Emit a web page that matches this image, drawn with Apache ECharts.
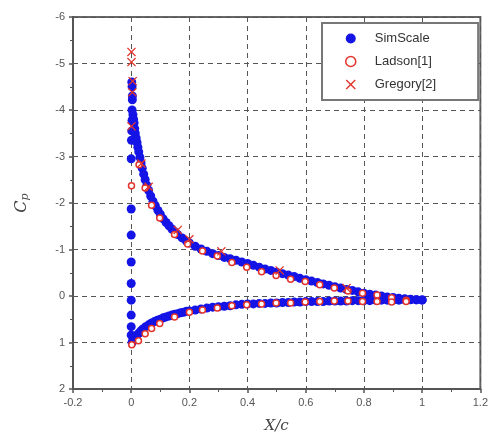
<!DOCTYPE html>
<html>
<head>
<meta charset="utf-8">
<script src="https://cdn.jsdelivr.net/npm/echarts@6/dist/echarts.min.js"></script>
<style>
  html, body { margin: 0; padding: 0; background: #fff; }
  #chart { width: 491px; height: 441px; }
</style>
</head>
<body>
<div id="chart"></div>
<script>
// Pressure coefficient distribution over the airfoil (suction side plotted upward, axis inverted)

// SimScale – points clustered right at the leading edge (x/c ~ 0)
const simLeX  = [0.000, 0.000, 0.000, 0.000, 0.000, 0.000, 0.000, 0.000, 0.000, 0.001, 0.002, 0.003, 0.003, 0.004, 0.004, 0.003, 0.002];
const simLeCp = [0.84, 0.66, 0.41, 0.09, -0.27, -0.73, -1.31, -1.87, -2.95, -3.35, -3.55, -3.78, -4.0, -4.22, -4.3, -4.5, -4.6];

// SimScale – upper surface
const simUpX  = [0.006, 0.008, 0.010, 0.012, 0.014, 0.017, 0.020, 0.023, 0.026, 0.030, 0.034, 0.038, 0.043, 0.048, 0.054, 0.060, 0.067, 0.075, 0.083, 0.092, 0.10, 0.11, 0.12, 0.13, 0.14, 0.15, 0.16, 0.175, 0.19, 0.20, 0.22, 0.24, 0.26, 0.28, 0.30, 0.32, 0.34, 0.36, 0.38, 0.40, 0.42, 0.44, 0.46, 0.48, 0.50, 0.52, 0.54, 0.56, 0.58, 0.60, 0.62, 0.64, 0.66, 0.68, 0.70, 0.72, 0.74, 0.76, 0.78, 0.80, 0.82, 0.84, 0.86, 0.88, 0.90, 0.92, 0.94, 0.96, 0.98, 1.00];
const simUpCp = [-3.9, -3.8, -3.72, -3.6, -3.5, -3.4, -3.3, -3.2, -3.1, -2.98, -2.86, -2.75, -2.62, -2.5, -2.38, -2.27, -2.15, -2.04, -1.94, -1.84, -1.76, -1.66, -1.58, -1.51, -1.44, -1.38, -1.32, -1.25, -1.18, -1.14, -1.07, -1.01, -0.96, -0.91, -0.87, -0.83, -0.80, -0.77, -0.73, -0.70, -0.66, -0.62, -0.58, -0.55, -0.51, -0.48, -0.45, -0.42, -0.38, -0.35, -0.32, -0.29, -0.26, -0.23, -0.20, -0.17, -0.14, -0.12, -0.09, -0.06, -0.04, -0.02, 0.0, 0.02, 0.03, 0.05, 0.06, 0.07, 0.08, 0.09];

// SimScale – lower surface
const simLoX  = [0.003, 0.006, 0.010, 0.015, 0.020, 0.026, 0.033, 0.040, 0.050, 0.060, 0.070, 0.080, 0.090, 0.10, 0.11, 0.12, 0.13, 0.14, 0.15, 0.16, 0.17, 0.18, 0.19, 0.20, 0.22, 0.24, 0.26, 0.28, 0.30, 0.32, 0.34, 0.36, 0.38, 0.40, 0.42, 0.44, 0.46, 0.48, 0.50, 0.52, 0.54, 0.56, 0.58, 0.60, 0.62, 0.64, 0.66, 0.68, 0.70, 0.72, 0.74, 0.76, 0.78, 0.80, 0.82, 0.84, 0.86, 0.88, 0.90, 0.92, 0.94, 0.96, 0.98, 1.00];
const simLoCp = [1.0, 0.97, 0.93, 0.88, 0.84, 0.80, 0.75, 0.71, 0.66, 0.62, 0.58, 0.55, 0.52, 0.50, 0.47, 0.45, 0.43, 0.41, 0.39, 0.38, 0.36, 0.35, 0.33, 0.32, 0.30, 0.28, 0.26, 0.24, 0.23, 0.22, 0.21, 0.19, 0.18, 0.17, 0.17, 0.16, 0.16, 0.15, 0.15, 0.14, 0.14, 0.13, 0.13, 0.12, 0.12, 0.12, 0.12, 0.11, 0.11, 0.11, 0.11, 0.10, 0.10, 0.10, 0.10, 0.09, 0.09, 0.09, 0.09, 0.09, 0.08, 0.08, 0.08, 0.08];

// Ladson [1] experiment
const ladsonX  = [0.001, 0.027, 0.048, 0.070, 0.098, 0.149, 0.194, 0.245, 0.296, 0.346, 0.397, 0.448, 0.498, 0.548, 0.598, 0.648, 0.698, 0.745, 0.795, 0.845, 0.895, 0.945,
                  0.002, 0.025, 0.048, 0.070, 0.098, 0.149, 0.200, 0.245, 0.296, 0.346, 0.397, 0.448, 0.498, 0.548, 0.598, 0.648, 0.698, 0.745, 0.795, 0.845, 0.895, 0.945];
const ladsonCp = [-2.37, -2.82, -2.32, -1.95, -1.68, -1.32, -1.12, -0.97, -0.86, -0.72, -0.62, -0.52, -0.44, -0.36, -0.31, -0.24, -0.17, -0.11, -0.06, -0.02, 0.04, 0.09,
                  1.05, 0.96, 0.81, 0.70, 0.59, 0.45, 0.35, 0.30, 0.26, 0.21, 0.19, 0.17, 0.15, 0.15, 0.13, 0.12, 0.11, 0.11, 0.12, 0.12, 0.13, 0.12];

// Gregory [2] experiment
const gregoryX  = [0.001, 0.001, 0.005, 0.004, 0.001, 0.035, 0.060, 0.160, 0.200, 0.310, 0.510, 0.740];
const gregoryCp = [-5.25, -5.03, -4.62, -4.38, -3.65, -2.85, -2.35, -1.42, -1.22, -0.96, -0.55, -0.17];

// Axis ticks
const xTicks = [-0.2, 0, 0.2, 0.4, 0.6, 0.8, 1, 1.2];
const yTicks = [-6, -5, -4, -3, -2, -1, 0, 1, 2];

const pairs = (xs, ys) => xs.map((x, i) => [x, ys[i]]);

const BLUE = '#1414e6';
const RED = '#e3342c';
const CROSS = 'path://M0,1L1,0L5,4L9,0L10,1L6,5L10,9L9,10L5,6L1,10L0,9L4,5Z';

const chart = echarts.init(document.getElementById('chart'), null, { renderer: 'canvas' });

const tickLabel = { color: '#555', fontSize: 11, fontFamily: 'Liberation Sans, Arial, sans-serif' };
const dashed = { show: true, lineStyle: { color: '#555', width: 1, type: [5, 4] } };

chart.setOption({
  animation: false,
  backgroundColor: '#fff',
  grid: {
    left: 73, right: 4, top: 17, bottom: 52,
    show: true, borderColor: '#666', borderWidth: 2, backgroundColor: 'transparent'
  },
  xAxis: {
    type: 'value',
    min: xTicks[0], max: xTicks[xTicks.length - 1], interval: 0.2,
    axisLine: { show: true, onZero: false, lineStyle: { color: '#555', width: 2 } },
    axisTick: { show: true, length: 4, lineStyle: { color: '#555', width: 1.5 } },
    minorTick: { show: true, splitNumber: 2, length: 3, lineStyle: { color: '#555' } },
    axisLabel: Object.assign({ margin: 8, formatter: v => String(Math.round(v * 10) / 10) }, tickLabel),
    splitLine: dashed,
    name: 'X/c',
    nameLocation: 'middle',
    nameGap: 30,
    nameTextStyle: { fontFamily: 'DejaVu Serif, Liberation Serif, serif', fontStyle: 'italic', fontSize: 15, color: '#444' }
  },
  yAxis: {
    type: 'value',
    inverse: true,
    min: yTicks[0], max: yTicks[yTicks.length - 1], interval: 1,
    axisLine: { show: true, onZero: false, lineStyle: { color: '#555', width: 2 } },
    axisTick: { show: true, length: 4, lineStyle: { color: '#555', width: 1.5 } },
    minorTick: { show: true, splitNumber: 2, length: 3, lineStyle: { color: '#555' } },
    axisLabel: Object.assign({ margin: 8, formatter: v => String(v) }, tickLabel),
    splitLine: dashed,
    name: '{c|C}{p|p}',
    nameLocation: 'middle',
    nameGap: 42,
    nameRotate: 90,
    nameTextStyle: {
      rich: {
        c: { fontFamily: 'DejaVu Serif, Liberation Serif, serif', fontStyle: 'italic', fontSize: 16, color: '#444' },
        p: { fontFamily: 'DejaVu Serif, Liberation Serif, serif', fontStyle: 'italic', fontSize: 11, color: '#444', padding: [8, 0, 0, 0] }
      }
    }
  },
  legend: {
    orient: 'vertical',
    left: 322, top: 23,
    padding: [9, 42, 9, 23],
    itemGap: 10,
    itemWidth: 10, itemHeight: 10,
    backgroundColor: '#fff',
    borderColor: '#777', borderWidth: 2, borderRadius: 0,
    textStyle: { fontSize: 13, color: '#333', fontFamily: 'Liberation Sans, Arial, sans-serif', padding: [0, 0, 0, 14] },
    data: [
      { name: 'SimScale', icon: 'circle', itemStyle: { color: BLUE, borderWidth: 0 } },
      { name: 'Ladson[1]', icon: 'circle', itemStyle: { color: '#fff', borderColor: RED, borderWidth: 1.5 } },
      { name: 'Gregory[2]', icon: CROSS, itemStyle: { color: RED, borderWidth: 0 } }
    ]
  },
  series: [
    {
      name: 'SimScale', type: 'scatter', symbol: 'circle', symbolSize: 9,
      itemStyle: { color: BLUE, opacity: 1 },
      data: pairs(simLeX, simLeCp).concat(pairs(simUpX, simUpCp), pairs(simLoX, simLoCp)),
      z: 2
    },
    {
      name: 'Ladson[1]', type: 'scatter', symbol: 'circle', symbolSize: 6,
      itemStyle: { color: '#fff', borderColor: RED, borderWidth: 1.5, opacity: 1 },
      data: pairs(ladsonX, ladsonCp),
      z: 3
    },
    {
      name: 'Gregory[2]', type: 'scatter', symbol: CROSS, symbolSize: 9,
      itemStyle: { color: RED, opacity: 1 },
      data: pairs(gregoryX, gregoryCp),
      z: 4
    }
  ]
});
</script>
</body>
</html>
